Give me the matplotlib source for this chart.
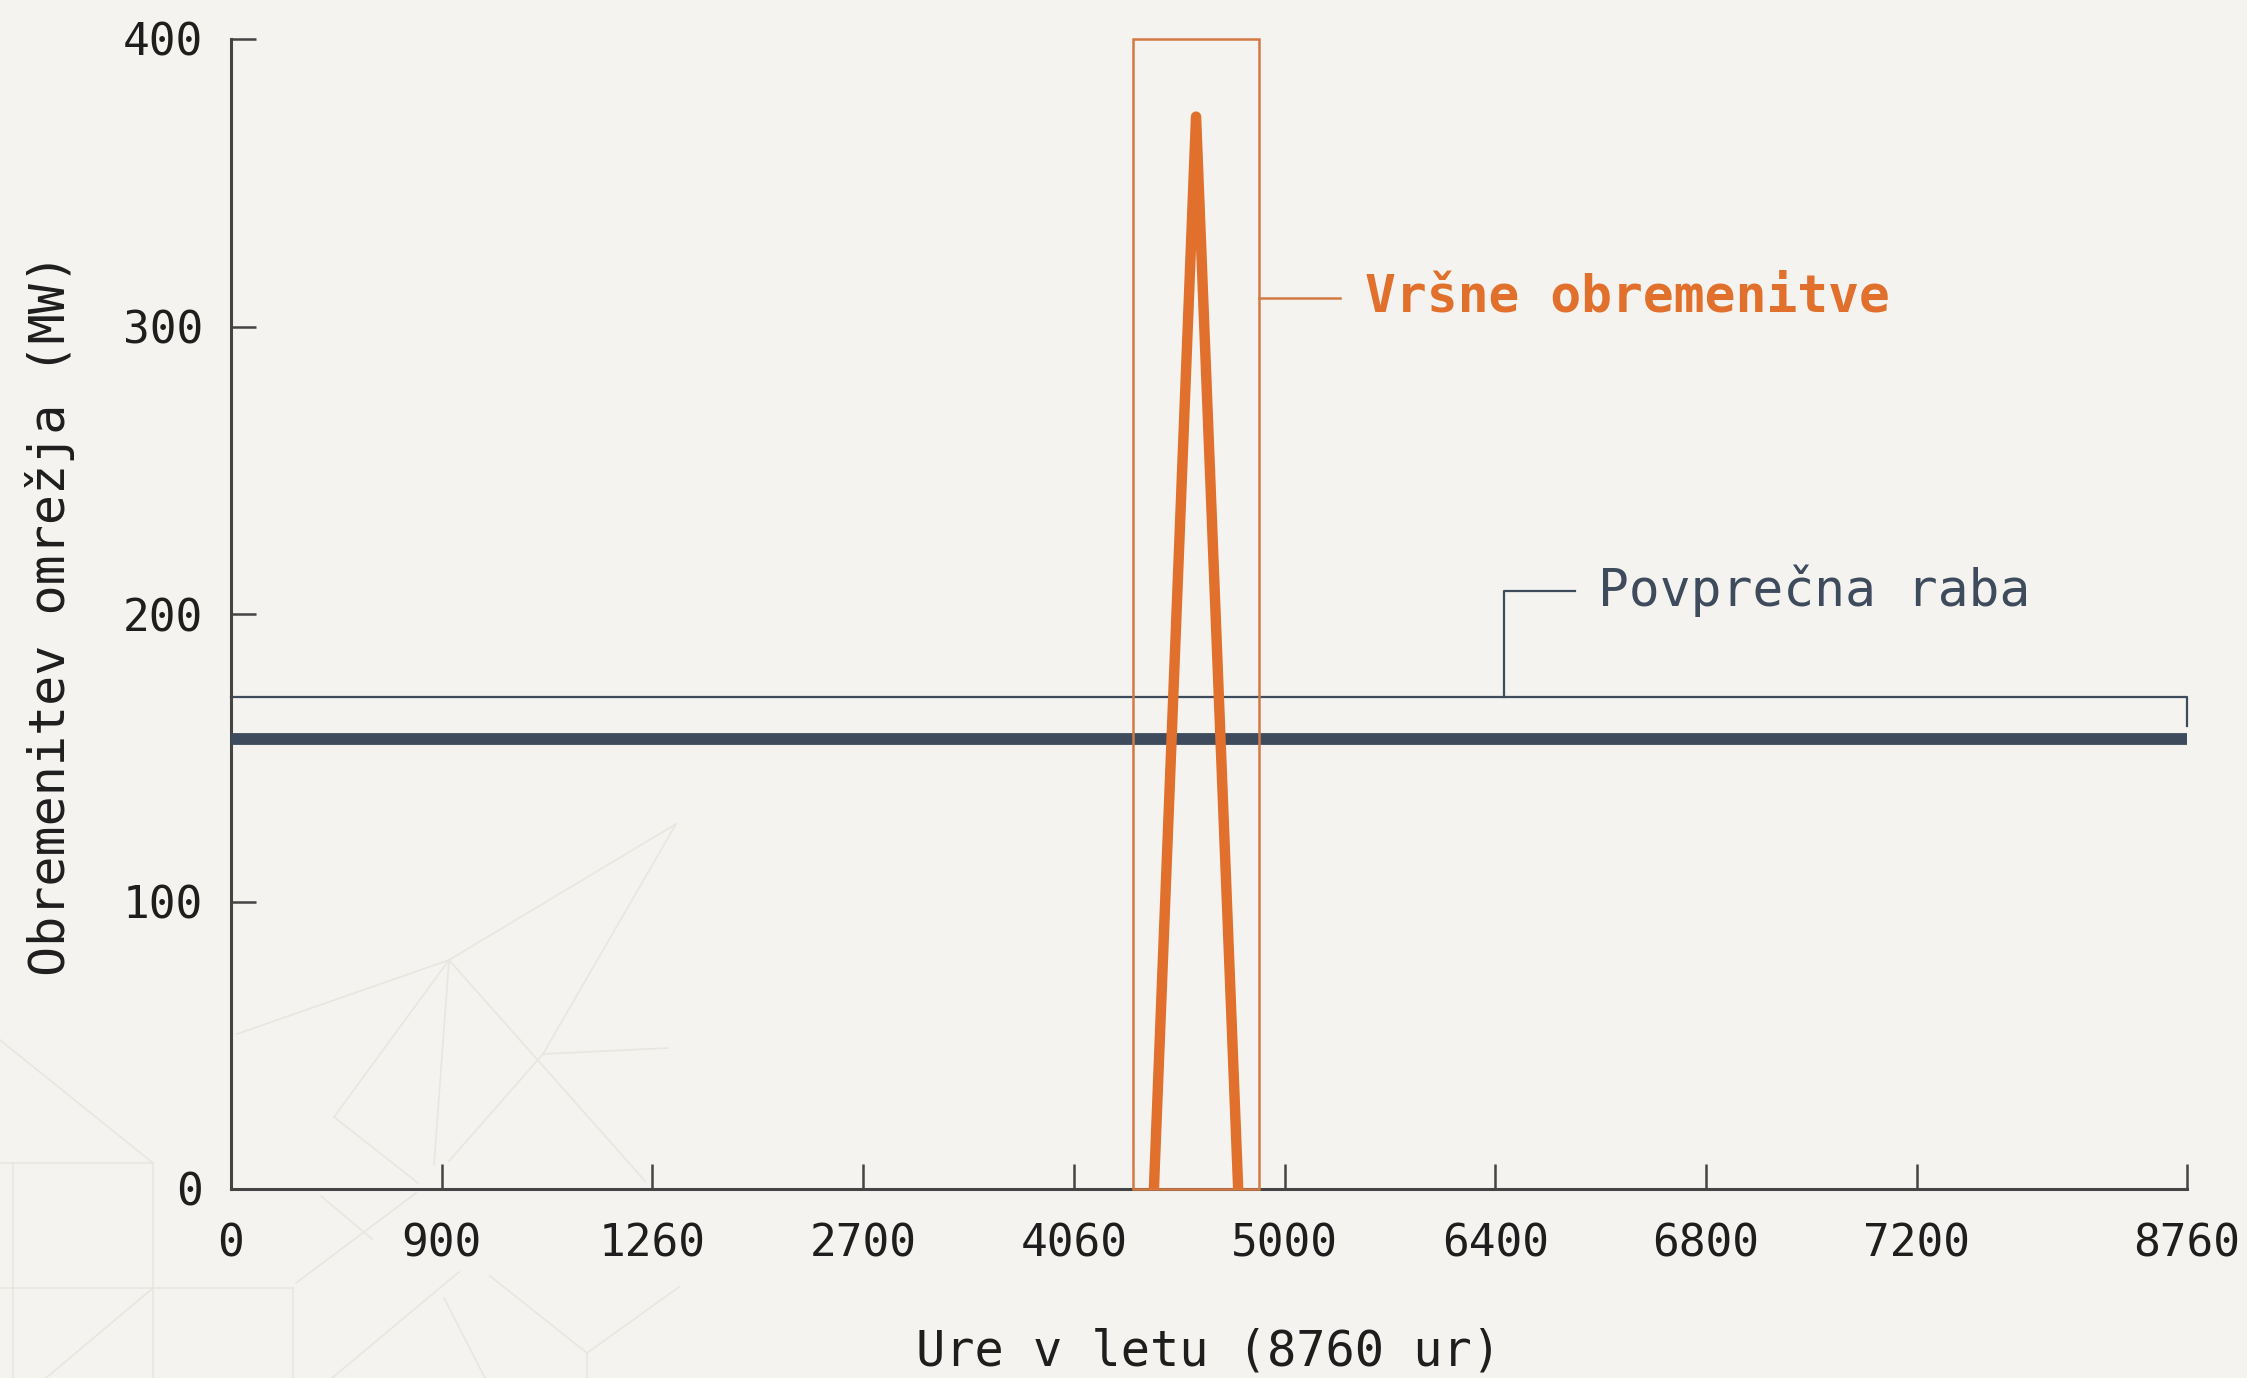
import matplotlib
matplotlib.use("Agg")
import matplotlib.pyplot as plt
from matplotlib.lines import Line2D
from matplotlib.patches import Rectangle

# tick slots along the x axis (labels are the hour marks shown on the chart)
tick_pos = [0, 1, 2, 3, 4, 5, 6, 7, 8, 9.283]
tick_labels = ["0", "900", "1260", "2700", "4060", "5000", "6400", "6800", "7200", "8760"]
y_ticks = [0, 100, 200, 300, 400]

# peak load spike (x in tick slots, y in MW)
peak_x = [4.38, 4.58, 4.78]
peak_y = [0, 373, 0]

# average load level (MW)
avg_load = 156.5

# highlight windows
peak_box_x = [4.281, 4.879]
peak_box_y = [0, 400]
avg_box_top = 171
avg_box_bottom = 161

BG = "#f4f3ef"
ORANGE = "#e0702c"
ORANGE_BOX = "#d37a44"
SLATE = "#3d4b5d"
AXIS = "#444444"
DECO = "#e8e6e0"

plt.rcParams["font.family"] = ["DejaVu Sans Mono"]

fig = plt.figure(figsize=(22.47, 13.78), dpi=100)
fig.patch.set_facecolor(BG)

# faint decorative background lines (pixel coords of the figure)
deco = [
    ((237, 1034), (449, 960)), ((449, 960), (676, 824)), ((449, 960), (334, 1117)),
    ((334, 1117), (418, 1183)), ((449, 960), (434, 1165)), ((449, 960), (645, 1181)),
    ((676, 824), (543, 1054)), ((543, 1054), (449, 1161)), ((543, 1054), (668, 1048)),
    ((0, 1040), (153, 1163)), ((0, 1163), (153, 1163)), ((13, 1163), (13, 1378)),
    ((153, 1163), (153, 1378)), ((0, 1288), (293, 1288)), ((293, 1288), (293, 1378)),
    ((153, 1288), (46, 1378)), ((321, 1196), (372, 1239)), ((296, 1283), (416, 1193)),
    ((444, 1298), (485, 1378)), ((490, 1276), (587, 1353)), ((587, 1353), (679, 1287)),
    ((459, 1272), (332, 1378)), ((587, 1353), (587, 1378)),
]
W, H = 2247, 1378
for (x0, y0), (x1, y1) in deco:
    fig.add_artist(Line2D([x0 / W, x1 / W], [1 - y0 / H, 1 - y1 / H],
                          transform=fig.transFigure, color=DECO, lw=1.2, zorder=0))

ax = fig.add_axes([231 / W, 1 - 1189 / H, (2187 - 231) / W, (1189 - 39) / H])
ax.set_facecolor("none")
ax.set_xlim(0, tick_pos[-1])
ax.set_ylim(0, 400)

for s in ["top", "right"]:
    ax.spines[s].set_visible(False)
for s in ["left", "bottom"]:
    ax.spines[s].set_color(AXIS)
    ax.spines[s].set_linewidth(2.2)

ax.set_xticks(tick_pos)
ax.set_xticklabels(tick_labels)
ax.set_yticks(y_ticks)
ax.tick_params(axis="both", direction="in", length=18, width=1.8, color=AXIS,
               labelsize=32, labelcolor="#1e1e1e")
ax.tick_params(axis="x", pad=24)
ax.tick_params(axis="y", pad=20)

# average load line and its bracket
ax.axhline(avg_load, color=SLATE, lw=8.5, solid_capstyle="butt", zorder=3)
ax.plot([0, tick_pos[-1], tick_pos[-1]], [avg_box_top, avg_box_top, avg_box_bottom],
        color=SLATE, lw=1.6, clip_on=False, zorder=2)
ax.plot([6.04, 6.04, 6.38], [avg_box_top, 208, 208], color=SLATE, lw=1.6, zorder=2)
ax.text(6.49, 208, "Povprečna raba", color=SLATE, fontsize=37, va="center", ha="left")

# peak spike and its box
ax.plot(peak_x, peak_y, color=ORANGE, lw=7.5, solid_capstyle="round",
        solid_joinstyle="round", zorder=4)
ax.add_patch(Rectangle((peak_box_x[0], peak_box_y[0]), peak_box_x[1] - peak_box_x[0],
                       peak_box_y[1] - peak_box_y[0], fill=False, ec=ORANGE_BOX, lw=1.8,
                       zorder=3, clip_on=False))
ax.plot([peak_box_x[1], 5.263], [310, 310], color=ORANGE_BOX, lw=1.8, zorder=3)
ax.text(5.38, 310, "Vršne obremenitve", color=ORANGE, fontsize=37,
        fontweight="bold", va="center", ha="left")

ax.set_xlabel("Ure v letu (8760 ur)", fontsize=35, color="#1e1e1e", va="center")
ax.xaxis.set_label_coords(0.5, -0.141)
ax.set_ylabel("Obremenitev omrežja (MW)", fontsize=36, color="#1e1e1e", va="center")
ax.yaxis.set_label_coords(-0.0925, 0.5)

fig.savefig("out.png", dpi=100, facecolor=BG)
plt.close(fig)
